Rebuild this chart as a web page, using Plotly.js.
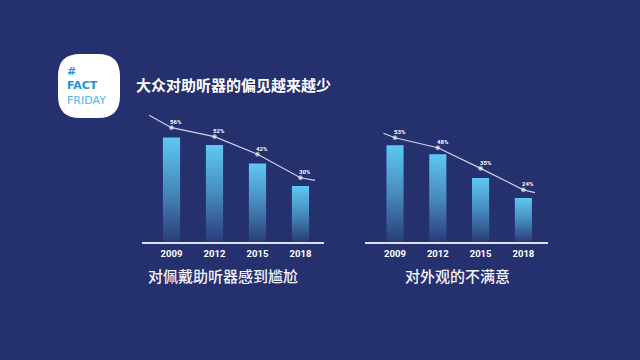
<!DOCTYPE html>
<html>
<head>
<meta charset="utf-8">
<script src="https://cdn.plot.ly/plotly-3.0.1.min.js"></script>
<style>
  html, body { margin: 0; padding: 0; background: #25306f; }
  #chart { width: 640px; height: 360px; }
</style>
</head>
<body>
<div id="chart"></div>
<script>
// ---- data ----
const years = ['2009', '2012', '2015', '2018'];
const yearIdx = [0, 1, 2, 3];
const embarrassed = [56, 52, 42, 30];          // 对佩戴助听器感到尴尬 (%)
const dissatisfied = [53, 48, 35, 24];         // 对外观的不满意 (%)
// trend lines drawn above the bars (x in year-index units, y in %)
const trendLeftX = [-0.52, 0, 1, 2, 3, 3.34];
const trendLeftY = [68, 61.3, 56.5, 47, 34.4, 33];
const trendRightX = [-0.27, 0, 1, 2, 3, 3.27];
const trendRightY = [59.6, 57.1, 51.6, 40.3, 28.5, 27];
const mainTitle = '大众对助听器的偏见越来越少';
const subLeft = '对佩戴助听器感到尴尬';
const subRight = '对外观的不满意';

// ---- helpers (pixel -> paper) ----
const W = 640, H = 360;
const px = x => x / W;
const py = y => 1 - y / H;

const BG = '#25306f';
const barColor = 'rgb(94,200,242)';
const lineColor = '#cdd2e8';

function bars(vals, xa, ya) {
  return {
    type: 'bar', x: yearIdx, y: vals, xaxis: xa, yaxis: ya,
    width: 0.4, marker: { color: barColor, line: { width: 0 } },
    hoverinfo: 'none'
  };
}
function trend(xs, ys, xa, ya) {
  const sizes = xs.map((_, i) => (i === 0 || i === xs.length - 1) ? 0 : 4);
  return {
    type: 'scatter', mode: 'lines+markers', x: xs, y: ys, xaxis: xa, yaxis: ya,
    line: { color: lineColor, width: 1.2 },
    marker: { color: '#ffffff', size: sizes },
    cliponaxis: false, hoverinfo: 'none'
  };
}

const data = [
  bars(embarrassed, 'x', 'y'),
  trend(trendLeftX, trendLeftY, 'x', 'y'),
  bars(dissatisfied, 'x2', 'y2'),
  trend(trendRightX, trendRightY, 'x2', 'y2')
];

const annotations = [];
function pctLabels(vals, tx, ty, xref, yref) {
  vals.forEach((v, i) => {
    annotations.push({
      x: tx[i + 1], y: ty[i + 1], xref: xref, yref: yref,
      text: v + '%', showarrow: false, xshift: 5, yshift: 6,
      font: { family: 'Roboto, "DejaVu Sans", sans-serif', size: 6, color: '#ffffff', weight: 700 }
    });
  });
}
pctLabels(embarrassed, trendLeftX, trendLeftY, 'x', 'y');
pctLabels(dissatisfied, trendRightX, trendRightY, 'x2', 'y2');

// titles
annotations.push({
  xref: 'paper', yref: 'paper', x: px(134), y: py(84), xanchor: 'left', yanchor: 'middle',
  text: mainTitle, showarrow: false,
  font: { family: '"Noto Sans CJK SC", sans-serif', size: 15, color: '#ffffff', weight: 700 }
});
annotations.push({
  xref: 'paper', yref: 'paper', x: px(222.5), y: py(275.5), xanchor: 'center', yanchor: 'middle',
  text: subLeft, showarrow: false,
  font: { family: '"Noto Sans CJK SC", sans-serif', size: 15, color: '#f2f3f8', weight: 500 }
});
annotations.push({
  xref: 'paper', yref: 'paper', x: px(457.5), y: py(275.5), xanchor: 'center', yanchor: 'middle',
  text: subRight, showarrow: false,
  font: { family: '"Noto Sans CJK SC", sans-serif', size: 15, color: '#f2f3f8', weight: 500 }
});
// logo text (one block, three lines)
annotations.push({
  xref: 'paper', yref: 'paper', x: px(65), y: py(86), xanchor: 'left', yanchor: 'middle', align: 'left',
  text: '<b>#</b><br><b>FACT</b><br><span style="color:#49b6ee">FRIDAY</span>', showarrow: false,
  font: { family: '"DejaVu Sans", sans-serif', size: 11, color: '#1d93d8' }
});

// logo squircle
const L = 58, R = 120, T = 54, B = 118, r = 22;
const logoPath = [
  'M', px(L + r), py(T),
  'L', px(R - r), py(T),
  'Q', px(R), py(T), px(R), py(T + r),
  'L', px(R), py(B - r),
  'Q', px(R), py(B), px(R - r), py(B),
  'L', px(L + r), py(B),
  'Q', px(L), py(B), px(L), py(B - r),
  'L', px(L), py(T + r),
  'Q', px(L), py(T), px(L + r), py(T),
  'Z'
].join(' ');

const tickFont = { family: 'Roboto, sans-serif', size: 9.5, color: '#ffffff', weight: 700 };
function xAxis(domain, range, anchor) {
  return {
    domain: domain, range: range, anchor: anchor,
    tickvals: yearIdx, ticktext: years, ticks: '', ticklabelstandoff: 2,
    showline: true, linecolor: '#dfe3f1', linewidth: 2,
    showgrid: false, zeroline: false, tickfont: tickFont, fixedrange: true
  };
}
function yAxis(domain, range, anchor) {
  return {
    domain: domain, range: range, anchor: anchor,
    visible: false, showgrid: false, zeroline: false, fixedrange: true
  };
}

const yDom = [py(241.7), py(110)];
const layout = {
  width: W, height: H,
  margin: { l: 0, r: 0, t: 0, b: 0 },
  paper_bgcolor: BG, plot_bgcolor: 'rgba(0,0,0,0)',
  showlegend: false,
  xaxis: xAxis([px(142), px(324)], [-0.686, 3.547], 'y'),
  yaxis: yAxis(yDom, [0, 131.7 / 1.86], 'x'),
  xaxis2: xAxis([px(364.5), px(548)], [-0.713, 3.575], 'y2'),
  yaxis2: yAxis(yDom, [0, 131.7 / 1.82], 'x2'),
  shapes: [{
    type: 'path', xref: 'paper', yref: 'paper', path: logoPath,
    fillcolor: '#ffffff', line: { width: 0 }, layer: 'below'
  }],
  annotations: annotations
};

Plotly.newPlot('chart', data, layout, { staticPlot: true, displayModeBar: false }).then(gd => {
  const ns = 'http://www.w3.org/2000/svg';
  const svg = gd.querySelector('svg.main-svg');
  let defs = svg.querySelector('defs');
  if (!defs) { defs = document.createElementNS(ns, 'defs'); svg.insertBefore(defs, svg.firstChild); }
  const lg = document.createElementNS(ns, 'linearGradient');
  lg.setAttribute('id', 'barGrad');
  lg.setAttribute('x1', '0'); lg.setAttribute('y1', '0');
  lg.setAttribute('x2', '0'); lg.setAttribute('y2', '1');
  [[0, 1], [0.5, 0.6], [1, 0.08]].forEach(([o, a]) => {
    const s = document.createElementNS(ns, 'stop');
    s.setAttribute('offset', o);
    s.setAttribute('stop-color', barColor);
    s.setAttribute('stop-opacity', a);
    lg.appendChild(s);
  });
  defs.appendChild(lg);
  gd.querySelectorAll('.barlayer .point path').forEach(p => { p.style.fill = 'url(#barGrad)'; });
});
</script>
</body>
</html>
